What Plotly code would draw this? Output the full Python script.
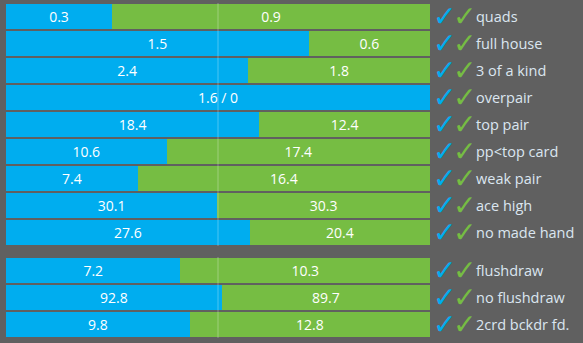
import plotly.graph_objects as go
from plotly.subplots import make_subplots

# Made hands (top block)
made_hands = ["quads", "full house", "3 of a kind", "overpair", "top pair",
              "pp&lt;top card", "weak pair", "ace high", "no made hand"]
made_blue = [0.3, 1.5, 2.4, 1.6, 18.4, 10.6, 7.4, 30.1, 27.6]
made_green = [0.9, 0.6, 1.8, 0.0, 12.4, 17.4, 16.4, 30.3, 20.4]

# Draws (bottom block)
draw_hands = ["flushdraw", "no flushdraw", "2crd bckdr fd."]
draw_blue = [7.2, 92.8, 9.8]
draw_green = [10.3, 89.7, 12.8]

BLUE = "#00adef"
GREEN = "#76bd43"
BG = "#606060"
LABEL = "#dbe6f0"
FONT = "Open Sans"

W, H = 583, 343
ML, MR, MT, MB = 6, 153, 3, 5
plot_h = H - MT - MB
gap = 11
row_px = 27

fig = make_subplots(rows=2, cols=1, shared_xaxes=True,
                    vertical_spacing=gap / plot_h,
                    row_heights=[len(made_hands), len(draw_hands)])


def fmt(v):
    return f"{v:g}" if v == int(v) else f"{v:.1f}"


def add_block(cats, blue, green, row):
    blue_txt = [fmt(b) if g != 0 else f"{fmt(b)} / {fmt(g)}" for b, g in zip(blue, green)]
    green_txt = [fmt(g) if g != 0 else "" for g in green]
    for vals, txt, col in ((blue, blue_txt, BLUE), (green, green_txt, GREEN)):
        fig.add_trace(go.Bar(
            y=cats, x=vals, orientation="h", marker=dict(color=col, line=dict(width=0)),
            text=txt, textposition="inside", insidetextanchor="middle",
            textangle=0, constraintext="none",
            textfont=dict(color="white", size=14, family=FONT),
            hoverinfo="skip", showlegend=False,
        ), row=row, col=1)
    yref = "y" if row == 1 else "y2"
    for c in cats:
        for shift, col in ((1, BLUE), (21, GREEN)):
            fig.add_annotation(x=1, xref="paper", y=c, yref=yref, xanchor="left",
                               xshift=shift, yshift=1, text="✓", showarrow=False,
                               height=22, valign="middle",
                               font=dict(color=col, size=28, weight="bold",
                                         family="DejaVu Sans"))
        fig.add_annotation(x=1, xref="paper", y=c, yref=yref, xanchor="left",
                           xshift=44, text=c, showarrow=False,
                           font=dict(color=LABEL, size=14.5, family=FONT))
    # 50% guide line over the bars
    fig.add_shape(type="line", x0=50, x1=50, xref="x" if row == 1 else "x2",
                  y0=0, y1=1, yref=f"{yref} domain", layer="above",
                  line=dict(color="rgba(255,255,255,0.3)", width=1))
    # fixed category range (reversed: first row on top)
    fig.update_yaxes(range=[len(cats) - 0.5, -0.5], row=row, col=1)


add_block(made_hands, made_blue, made_green, 1)
add_block(draw_hands, draw_blue, draw_green, 2)

fig.update_layout(
    width=W, height=H, barmode="stack", barnorm="percent",
    bargap=2 / row_px,
    paper_bgcolor=BG, plot_bgcolor=BG,
    margin=dict(l=ML, r=MR, t=MT, b=MB),
    font=dict(family=FONT),
)
fig.update_xaxes(range=[0, 100], showgrid=False, zeroline=False,
                 showticklabels=False, fixedrange=True)
fig.update_yaxes(autorange=False, showgrid=False, zeroline=False,
                 showticklabels=False, type="category", fixedrange=True)

fig.write_html("out.html")
